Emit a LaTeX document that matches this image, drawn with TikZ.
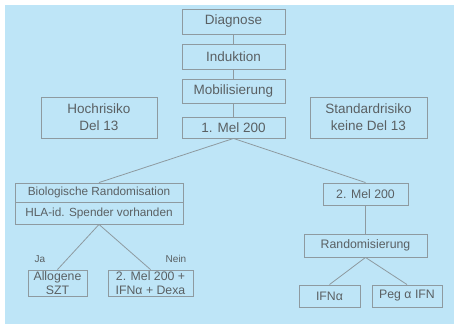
\documentclass[tikz,border=0pt]{standalone}
\usepackage{fontspec}
\setmainfont{Liberation Sans}
\definecolor{bgblue}{HTML}{BEE5F7}
\definecolor{edgegray}{HTML}{8E9AA0}
\definecolor{txtgray}{HTML}{5A6063}
\begin{document}
\begin{tikzpicture}[x=1pt,y=-1pt,
  box/.style={draw=edgegray,line width=0.9pt,rectangle,inner sep=0pt,align=center,text=txtgray},
  big/.style={box,font=\fontsize{13.5}{17}\selectfont},
  small/.style={box,font=\fontsize{12.3}{13.5}\selectfont},
  bio/.style={box,font=\fontsize{11.8}{14}\selectfont},
  conn/.style={draw=edgegray,line width=0.8pt},
  lbl/.style={text=txtgray,font=\fontsize{10}{12}\selectfont,inner sep=0pt}]
\useasboundingbox (0,0) rectangle (454,324);
\fill[bgblue] (5,5) rectangle (454,324);
% top column
\node[big,minimum width=103pt,minimum height=25pt] (diag) at (233.5,21.5) {Diagnose};
\node[big,minimum width=103pt,minimum height=25pt] (ind) at (233.5,56.5) {Induktion};
\node[big,minimum width=103pt,minimum height=24pt] (mob) at (233.5,91) {Mobilisierung};
\node[big,minimum width=103pt,minimum height=21pt] (mel1) at (233.5,127.5) {1. Mel 200};
\node[big,minimum width=116pt,minimum height=41pt] (hoch) at (99,117.5) {Hochrisiko\\Del 13};
\node[big,minimum width=117pt,minimum height=41pt] (std) at (368.5,117.5) {Standardrisiko\\keine Del 13};
% left branch
\node[bio,minimum width=168pt,minimum height=19pt] (bioA) at (99,192.5) {Biologische Randomisation};
\node[bio,minimum width=168pt,minimum height=22pt] (bioB) at (99,213) {HLA-id. Spender vorhanden};
\node[small,minimum width=59pt,minimum height=26pt] (allo) at (57.5,283) {Allogene\\SZT};
\node[small,minimum width=85pt,minimum height=26pt] (mel2b) at (150.5,283) {2. Mel 200 +\\IFNα + Dexa};
\node[lbl] (ja) at (40,259) {Ja};
\node[lbl] (nein) at (176,259) {Nein};
% right branch
\node[small,minimum width=85pt,minimum height=22pt] (mel2) at (365.5,194) {2. Mel 200};
\node[small,minimum width=123pt,minimum height=23pt] (rand) at (365.5,245.5) {Randomisierung};
\node[small,minimum width=61pt,minimum height=22pt] (ifn) at (329.5,296) {IFNα};
\node[small,minimum width=70pt,minimum height=22pt] (peg) at (407,296) {Peg α IFN};
% connectors
\draw[conn] (diag) -- (ind);
\draw[conn] (ind) -- (mob);
\draw[conn] (mob) -- (mel1);
\draw[conn] (mel1.south) -- (bioA.north);
\draw[conn] (mel1.south) -- (mel2.north);
\draw[conn] (bioB.south) -- (allo.north);
\draw[conn] (bioB.south) -- (mel2b.north);
\draw[conn] (mel2) -- (rand);
\draw[conn] (rand.south) -- (ifn.north);
\draw[conn] (rand.south) -- (peg.north);
\end{tikzpicture}
\end{document}
